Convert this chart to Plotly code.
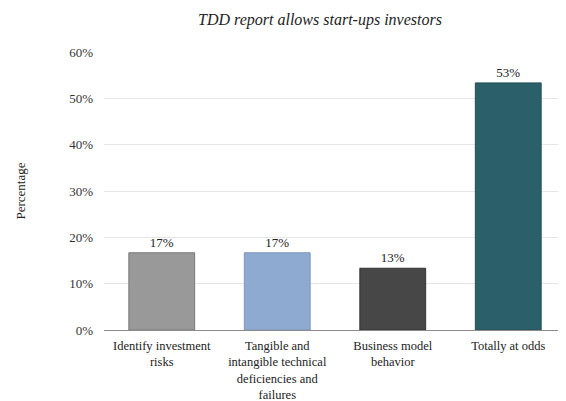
import plotly.graph_objects as go

categories = [
    "Identify investment<br>risks",
    "Tangible and<br>intangible technical<br>deficiencies and<br>failures",
    "Business model<br>behavior",
    "Totally at odds",
]
values = [16.67, 16.67, 13.33, 53.33]
colors = ["#999999", "#8eaad0", "#474747", "#2b5f69"]
borders = ["#7a7a7a", "#7f97b8", "#333333", "#234e56"]
y_ticks = [0, 10, 20, 30, 40, 50, 60]
y_tick_labels = ["0%", "10%", "20%", "30%", "40%", "50%", "60%"]

FONT = "Liberation Serif, Times New Roman, serif"

# The page body has an 8px margin, so the figure is sized to fit the window.
W, H = 558, 393

fig = go.Figure(
    go.Bar(
        x=categories,
        y=values,
        marker=dict(color=colors, line=dict(color=borders, width=1)),
        width=0.57,
        texttemplate="%{y:.0f}%",
        textposition="outside",
        textfont=dict(family=FONT, size=13, color="#222222"),
        cliponaxis=False,
    )
)

fig.update_layout(
    template="none",
    width=W,
    height=H,
    margin=dict(l=96, r=0, t=44, b=71, pad=0),
    paper_bgcolor="white",
    plot_bgcolor="white",
    font=dict(family=FONT, size=12, color="#222222"),
    showlegend=False,
    title=dict(
        text="<i>TDD report allows start-ups investors</i>",
        x=312 / W,
        xanchor="center",
        y=1 - 11 / H,
        yanchor="middle",
        font=dict(family=FONT, size=16, color="#222222"),
    ),
    xaxis=dict(
        showline=True,
        linecolor="#8c8c8c",
        linewidth=1,
        showgrid=False,
        zeroline=False,
        tickfont=dict(family=FONT, size=12.5, color="#222222"),
        ticks="",
        ticklabelstandoff=4,
    ),
    yaxis=dict(
        range=[0, 60],
        tickmode="array",
        tickvals=y_ticks,
        ticktext=y_tick_labels,
        showgrid=True,
        gridcolor="#e6e6e6",
        gridwidth=1,
        zeroline=False,
        showline=False,
        ticks="",
        tickfont=dict(family=FONT, size=13, color="#333333"),
        ticklabelstandoff=10,
        title=dict(
            text="Percentage",
            standoff=40,
            font=dict(family=FONT, size=13, color="#222222"),
        ),
    ),
)

fig.write_html("out.html")
